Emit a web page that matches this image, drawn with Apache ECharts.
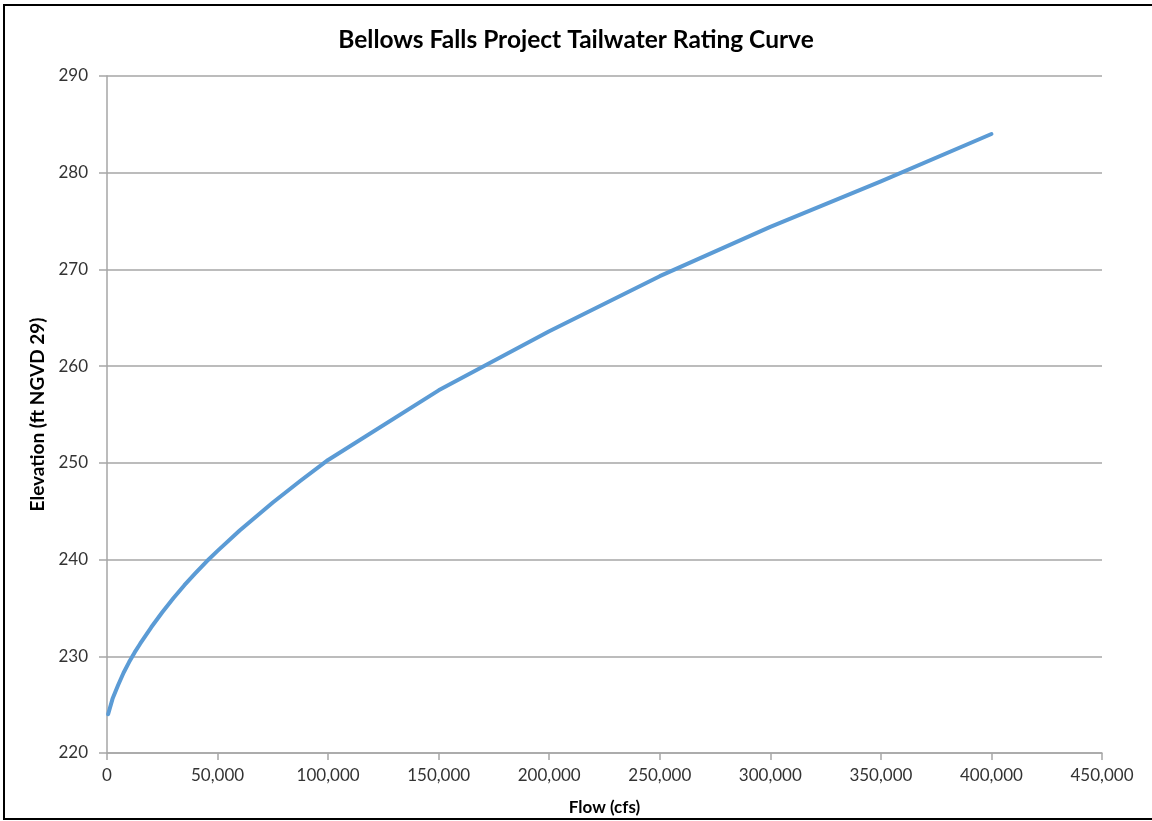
<!DOCTYPE html>
<html>
<head>
<meta charset="utf-8">
<script src="https://cdn.jsdelivr.net/npm/echarts@6/dist/echarts.min.js"></script>
<style>
html,body{margin:0;padding:0;background:#fff;}
#chart{width:1152px;height:821px;}
</style>
</head>
<body>
<div id="chart"></div>
<script>
const flowCfs = [500, 2500, 5000, 7500, 10000, 12500, 15000, 20000, 25000, 30000, 35000, 40000, 45000, 50000, 60000, 75000, 87500, 100000, 150000, 200000, 250000, 300000, 350000, 400000];
const elevationFt = [224.0, 225.6, 227.0, 228.3, 229.4, 230.4, 231.3, 233.0, 234.55, 236.0, 237.35, 238.6, 239.8, 240.9, 243.0, 245.9, 248.15, 250.3, 257.5, 263.6, 269.3, 274.4, 279.1, 284.0];
const titleText = 'Bellows Falls Project Tailwater Rating Curve';
const xAxisTitle = 'Flow (cfs)';
const yAxisTitle = 'Elevation (ft NGVD 29)';

const chart = echarts.init(document.getElementById('chart'));
const font = 'Lato, "Open Sans", sans-serif';
chart.setOption({
  backgroundColor: '#ffffff',
  animation: false,
  graphic: [{
    type: 'rect',
    shape: {x: 4, y: 5, width: 1160, height: 814},
    style: {fill: 'none', stroke: '#000', lineWidth: 2},
    silent: true
  }],
  title: {
    text: titleText,
    left: 'center',
    top: 23,
    textStyle: {fontFamily: font, fontSize: 24.5, fontWeight: 'bold', color: '#000'}
  },
  grid: {left: 107, right: 50, top: 76, bottom: 68, containLabel: false},
  xAxis: {
    type: 'value',
    min: 0, max: 450000, interval: 50000,
    name: xAxisTitle,
    nameLocation: 'middle',
    nameGap: 46,
    nameTextStyle: {fontFamily: font, fontSize: 17, fontWeight: 'bold', color: '#000'},
    axisLine: {show: true, lineStyle: {color: '#a6a6a6', width: 1.5}},
    axisTick: {show: true, inside: false, length: 7, lineStyle: {color: '#a6a6a6', width: 1.5}},
    axisLabel: {
      fontFamily: font, fontSize: 17, color: '#333333', margin: 14,
      formatter: v => v.toLocaleString('en-US')
    },
    splitLine: {show: false}
  },
  yAxis: {
    type: 'value',
    min: 220, max: 290, interval: 10,
    name: yAxisTitle,
    nameLocation: 'middle',
    nameGap: 56,
    nameRotate: 90,
    nameTextStyle: {fontFamily: font, fontSize: 19, fontWeight: 'bold', color: '#000'},
    axisLine: {show: true, lineStyle: {color: '#a6a6a6', width: 1.5}},
    axisTick: {show: true, inside: false, length: 8, lineStyle: {color: '#a6a6a6', width: 1.5}},
    axisLabel: {fontFamily: font, fontSize: 17, color: '#333333', margin: 19},
    splitLine: {show: true, lineStyle: {color: '#a6a6a6', width: 1.5}}
  },
  series: [{
    type: 'line',
    data: flowCfs.map((f, i) => [f, elevationFt[i]]),
    showSymbol: false,
    smooth: false,
    lineStyle: {color: '#5b9bd5', width: 4, cap: 'round', join: 'round'},
    itemStyle: {color: '#5b9bd5'}
  }]
});
</script>
</body>
</html>
